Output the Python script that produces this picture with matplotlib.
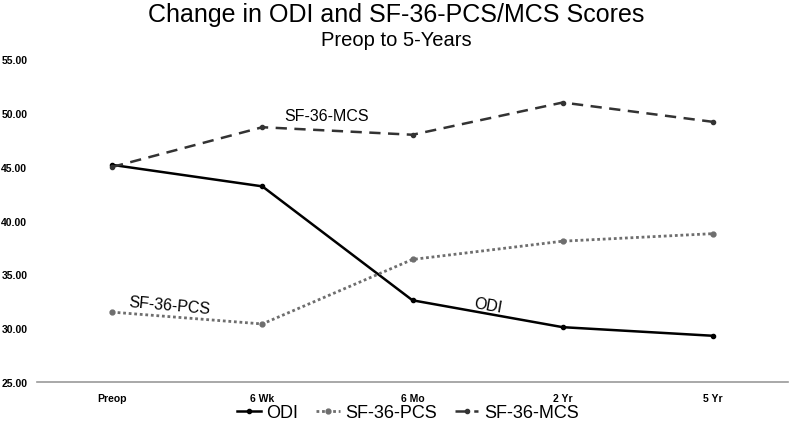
import matplotlib
matplotlib.use("Agg")
import matplotlib.pyplot as plt

plt.rcParams['font.family'] = ['Liberation Sans', 'DejaVu Sans']

# data
timepoints = ["Preop", "6 Wk", "6 Mo", "2 Yr", "5 Yr"]
odi = [45.2, 43.2, 32.6, 30.1, 29.3]
sf36_pcs = [31.5, 30.4, 36.4, 38.1, 38.8]
sf36_mcs = [45.0, 48.7, 48.0, 51.0, 49.2]
y_ticks = [25, 30, 35, 40, 45, 50, 55]

fig = plt.figure(figsize=(7.92, 4.27), dpi=100)
ax = fig.add_axes([37/792, 1 - 383/427, (788 - 37)/792, (383 - 60.5)/427])

x = list(range(len(timepoints)))
ax.plot(x, odi, color='black', lw=1.8, marker='o', ms=3, label='ODI')
ax.plot(x, sf36_pcs, color='#6e6e6e', lw=2.0, ls=(0, (1, 1)), marker='o', ms=3.5,
        label='SF-36-PCS')
ax.plot(x, sf36_mcs, color='#333333', lw=1.8, ls=(0, (4.5, 3)), marker='o', ms=3,
        label='SF-36-MCS')

ax.set_xlim(-0.5, 4.5)
ax.set_ylim(25, 55)
ax.set_xticks(x)
ax.set_xticklabels(timepoints, fontsize=7.5, fontweight='bold')
ax.set_yticks(y_ticks)
ax.set_yticklabels(["%.2f" % v for v in y_ticks], fontsize=7.5, fontweight='bold')
ax.tick_params(length=0, pad=8)
ax.tick_params(axis='y', pad=7)
for s in ['top', 'right', 'left']:
    ax.spines[s].set_visible(False)
ax.spines['bottom'].set_color('#9a9a9a')
ax.spines['bottom'].set_linewidth(1.2)

# inline series labels
ax.text(1.43, 49.8, "SF-36-MCS", fontsize=11.5, ha='center', va='center')
ax.text(0.38, 32.2, "SF-36-PCS", fontsize=11.5, ha='center', va='center', rotation=-5)
ax.text(2.5, 32.2, "ODI", fontsize=11.5, ha='center', va='center', rotation=-10)

fig.text(0.5, 1 - 15/427, "Change in ODI and SF-36-PCS/MCS Scores", fontsize=18,
         ha='center', va='center')
fig.text(0.5, 1 - 41/427, "Preop to 5-Years", fontsize=14.5, ha='center', va='center')

fig.legend(loc='center', bbox_to_anchor=(0.515, 1 - 414/427), ncol=3, frameon=False,
           fontsize=13, handlelength=1.3, handletextpad=0.3, columnspacing=1.0,
           borderaxespad=0, borderpad=0)

fig.savefig("out.png", dpi=100)
